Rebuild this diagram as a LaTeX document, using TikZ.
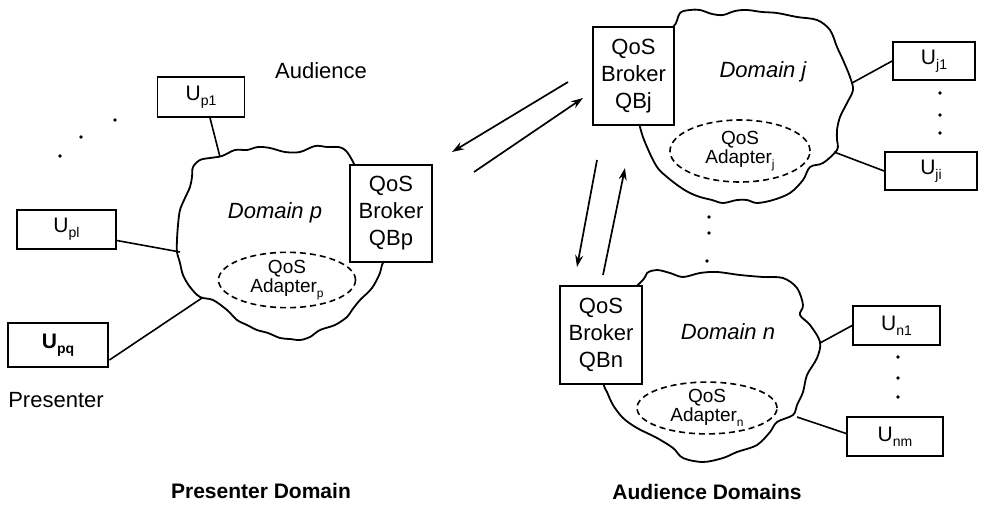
\documentclass[tikz,border=0pt]{standalone}
\usepackage{fontspec}
\setmainfont{Liberation Sans}
\usetikzlibrary{arrows.meta,shapes.geometric}
\newcommand\usub[2]{#1\raisebox{-0.45ex}{\fontsize{14}{14}\selectfont #2}}
\newcommand\asub[2]{#1\raisebox{-0.5ex}{\fontsize{12}{12}\selectfont #2}}
\tikzset{
  ubox/.style={draw, line width=1.7pt, fill=white, inner sep=0pt, font=\fontsize{21}{25}\selectfont},
  qbox/.style={draw, line width=1.7pt, fill=white, inner sep=0pt, align=center, font=\fontsize{22}{27}\selectfont},
  adapter/.style={draw, ellipse, dashed, dash pattern=on 6pt off 4pt, line width=1.6pt, inner sep=0pt, align=center, font=\fontsize{19}{17}\selectfont},
  cloudline/.style={line width=1.8pt, fill=white},
  link/.style={line width=1.6pt},
  msg/.style={line width=1.7pt, -{Stealth[length=12pt,width=8pt]}},
  dom/.style={font=\fontsize{22}{26}\selectfont\itshape},
  lab/.style={font=\fontsize{22}{26}\selectfont},
  blab/.style={font=\fontsize{21}{26}\selectfont\bfseries},
  dot/.style={fill, circle, inner sep=0pt, minimum size=3.8pt}
}
\begin{document}
\begin{tikzpicture}[x=1pt,y=-1pt]
\useasboundingbox (0,0) rectangle (984,505);
% clouds
\draw[cloudline] plot[smooth cycle, tension=0.55] coordinates {(210,158) (222,156) (235,150) (247,150) (258,147) (270,148) (285,152) (300,152) (315,146) (327,147) (342,148) (352,160) (370,200) (385,240) (387,253) (382,265) (380,273) (372,288) (360,300) (352,310) (347,317) (335,325) (320,330) (310,337) (300,340) (290,339) (280,338) (268,333) (257,330) (247,325) (237,320) (227,310) (213,300) (200,297) (190,287) (183,275) (180,263) (177,252) (177,240) (178,225) (180,210) (185,198) (190,187) (192,177) (193,167) (200,160)};
\draw[cloudline] plot[smooth cycle, tension=0.55] coordinates {(673,27) (680,13) (690,10) (700,10) (712,14) (723,15) (735,11) (747,10) (762,12) (777,13) (797,17) (817,20) (830,30) (837,47) (843,60) (850,77) (853,90) (847,103) (840,117) (837,130) (837,140) (837,150) (823,163) (810,167) (803,180) (790,193) (773,200) (757,203) (747,200) (737,200) (723,203) (712,200) (700,197) (690,193) (680,187) (667,177) (657,167) (647,147) (640,127) (630,80) (650,35)};
\draw[cloudline] plot[smooth cycle, tension=0.55] coordinates {(640,283) (647,273) (657,270) (670,273) (683,277) (700,273) (717,272) (740,275) (763,277) (783,278) (797,288) (803,305) (800,315) (810,325) (820,342) (817,358) (807,375) (803,392) (797,405) (793,415) (777,422) (770,432) (757,445) (737,452) (723,458) (703,462) (683,458) (673,448) (657,438) (637,428) (623,418) (613,405) (607,392) (603,382) (590,330)};
% domain labels
\node[dom] (dp) at (275,213) {Domain p};
\node[dom] (dj) at (763,72) {Domain j};
\node[dom] (dn) at (728,332) {Domain n};
% adapters
\node[adapter, minimum width=137pt, minimum height=55pt] (ap) at (287,280) {QoS\\\asub{Adapter}{p}};
\node[adapter, minimum width=140pt, minimum height=62pt] (aj) at (740,151) {QoS\\\asub{Adapter}{j}};
\node[adapter, minimum width=140pt, minimum height=50pt] (an) at (707,408) {QoS\\\asub{Adapter}{n}};
% brokers
\node[qbox, minimum width=82pt, minimum height=97pt] (qbp) at (391,213.5) {QoS\\Broker\\QBp};
\node[qbox, minimum width=81pt, minimum height=98pt] (qbj) at (633.5,76) {QoS\\Broker\\QBj};
\node[qbox, minimum width=82pt, minimum height=98pt] (qbn) at (601,335) {QoS\\Broker\\QBn};
% users
\node[ubox, minimum width=87pt, minimum height=40pt] (up1) at (201,97) {\usub{U}{p1}};
\node[ubox, minimum width=99pt, minimum height=39pt] (upl) at (66.5,229.5) {\usub{U}{pl}};
\node[ubox, line width=2.8pt, minimum width=100pt, minimum height=44pt, font=\fontsize{21}{25}\selectfont\bfseries] (upq) at (58,345) {\usub{U}{pq}};
\node[ubox, minimum width=82pt, minimum height=38pt] (uj1) at (934,61) {\usub{U}{j1}};
\node[ubox, minimum width=92pt, minimum height=38pt] (uji) at (931,171) {\usub{U}{ji}};
\node[ubox, minimum width=87pt, minimum height=39pt] (un1) at (896.5,325.5) {\usub{U}{n1}};
\node[ubox, minimum width=96pt, minimum height=39pt] (unm) at (895,436.5) {\usub{U}{nm}};
% attachment points on clouds
\coordinate (cp1) at (220,157);
\coordinate (cpl) at (180,252);
\coordinate (cpq) at (202,298);
\coordinate (cj1) at (852,83);
\coordinate (cji) at (834,152);
\coordinate (cn1) at (820,343);
\coordinate (cnm) at (797,417);
\draw[link] (up1.south)+(9,0) -- (cp1);
\draw[link] ([yshift=-11pt]upl.east) -- (cpl);
\draw[link] ([yshift=-15pt]upq.east) -- (cpq);
\draw[link] (uj1.west) -- (cj1);
\draw[link] (uji.west) -- (cji);
\draw[link] (un1.west) -- (cn1);
\draw[link] ([yshift=3pt]unm.west) -- (cnm);
% messages
\coordinate (a1) at (568,82);
\coordinate (a2) at (452,152);
\coordinate (b1) at (474,172);
\coordinate (b2) at (583,98);
\coordinate (c1) at (597,160);
\coordinate (c2) at (577,267);
\coordinate (d1) at (603,275);
\coordinate (d2) at (625,168);
\draw[msg] (a1) -- (a2);
\draw[msg] (b1) -- (b2);
\draw[msg] (c1) -- (c2);
\draw[msg] (d1) -- (d2);
% dots
\node[dot] (e1) at (115,120) {};
\node[dot] (e2) at (81,137) {};
\node[dot] (e3) at (60,156) {};
\node[dot] (f1) at (940,93) {};
\node[dot] (f2) at (940,115) {};
\node[dot] (f3) at (940,133) {};
\node[dot] (g1) at (709,217) {};
\node[dot] (g2) at (709,233) {};
\node[dot] (g3) at (707,261) {};
\node[dot] (h1) at (898,357) {};
\node[dot] (h2) at (898,378) {};
\node[dot] (h3) at (898,397) {};
% labels
\node[lab] (aud) at (321,71) {Audience};
\node[lab] (pres) at (56,400) {Presenter};
\node[blab] (pd) at (261,491) {Presenter Domain};
\node[blab] (ad) at (707,492) {Audience Domains};
\end{tikzpicture}
\end{document}
